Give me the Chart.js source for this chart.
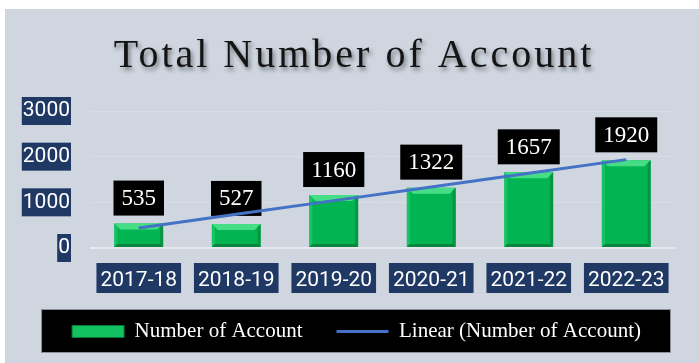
<!DOCTYPE html>
<html>
<head>
<meta charset="utf-8">
<script src="https://cdn.jsdelivr.net/npm/chart.js@4.4.1/dist/chart.umd.min.js"></script>
<style>
html, body { margin: 0; padding: 0; background: #fff; }
canvas { display: block; }
</style>
</head>
<body>
<canvas id="accounts" width="699" height="363"></canvas>
<script>
var years = ['2017-18', '2018-19', '2019-20', '2020-21', '2021-22', '2022-23'];
var accounts = [535, 527, 1160, 1322, 1657, 1920];
var yTicks = [0, 1000, 2000, 3000];
var seriesName = 'Number of Account';
var trendName = 'Linear (Number of Account)';
var chartTitle = 'Total Number of Account';

var navy = '#203864';
var tickFont = { family: 'Roboto', size: 21 };
var serif = '"Liberation Serif", "Times New Roman", serif';

// least squares line through the yearly counts
function linearTrend(values) {
    var n = values.length, sx = 0, sy = 0, sxy = 0, sxx = 0;
    for (var i = 0; i < n; i++) {
        sx += i; sy += values[i]; sxy += i * values[i]; sxx += i * i;
    }
    var slope = (n * sxy - sx * sy) / (n * sxx - sx * sx);
    var icpt = (sy - slope * sx) / n;
    return values.map(function (v, i) { return icpt + slope * i; });
}

// panel, heading, label boxes and legend strip, all under the chart
var backdrop = {
    id: 'backdrop',
    beforeDraw: function (chart) {
        var ctx = chart.ctx;
        ctx.save();
        ctx.fillStyle = '#fff';
        ctx.fillRect(0, 0, chart.width, chart.height);
        ctx.fillStyle = '#cfd6e0';
        ctx.fillRect(5, 9, chart.width - 5, chart.height - 9);

        ctx.save();
        ctx.font = '40px ' + serif;
        ctx.letterSpacing = '3px';
        ctx.textAlign = 'center';
        ctx.textBaseline = 'alphabetic';
        ctx.shadowColor = 'rgba(0,0,0,0.45)';
        ctx.shadowBlur = 4;
        ctx.shadowOffsetX = 2;
        ctx.shadowOffsetY = 3;
        ctx.fillStyle = '#141414';
        ctx.fillText(chartTitle, 354, 67);
        ctx.restore();

        var ys = chart.scales.y, xs = chart.scales.x;
        var f = Chart.helpers.toFont(tickFont);
        ctx.font = f.string;
        ctx.fillStyle = navy;
        ys.ticks.forEach(function (t, i) {
            var w = ctx.measureText(t.label).width;
            var py = ys.getPixelForTick(i);
            var r = ys.right - ys.options.ticks.padding;
            ctx.fillRect(r - w - 1, py - 14, w + 2, 28);
        });
        xs.ticks.forEach(function (t, i) {
            var w = ctx.measureText(t.label).width;
            var px = xs.getPixelForTick(i);
            ctx.fillRect(px - w / 2 - 4, xs.top + 15, w + 8, 30);
        });

        var hb = chart.legend.legendHitBoxes;
        if (hb && hb.length) {
            var l = Math.min.apply(null, hb.map(function (b) { return b.left; }));
            var r = Math.max.apply(null, hb.map(function (b) { return b.left + b.width; }));
            ctx.fillStyle = '#000';
            ctx.fillRect(l - 31, hb[0].top - 12, r - l + 61, 44);
            ctx.strokeStyle = '#8c9199';
            ctx.lineWidth = 1;
            ctx.strokeRect(l - 30.5, hb[0].top - 11.5, r - l + 60, 43);
        }
        ctx.restore();
    }
};

// bevel on each bar plus the black value tags
var barDecor = {
    id: 'barDecor',
    afterDatasetDraw: function (chart, args) {
        if (args.index !== 0) return;
        var ctx = chart.ctx;
        ctx.save();
        args.meta.data.forEach(function (bar, i) {
            var p = bar.getProps(['x', 'y', 'base', 'width'], true);
            var l = p.x - p.width / 2, r = p.x + p.width / 2, t = p.y, b = p.base;
            var e = 6, s = 3;
            ctx.fillStyle = '#45de86';
            ctx.beginPath();
            ctx.moveTo(l, t); ctx.lineTo(r, t); ctx.lineTo(r - e, t + e); ctx.lineTo(l + e, t + e);
            ctx.closePath(); ctx.fill();
            ctx.fillStyle = '#17c463';
            ctx.beginPath();
            ctx.moveTo(l, t); ctx.lineTo(l + s, t + s); ctx.lineTo(l + s, b - s); ctx.lineTo(l, b);
            ctx.closePath(); ctx.fill();
            ctx.fillStyle = '#079443';
            ctx.beginPath();
            ctx.moveTo(r, t); ctx.lineTo(r - s, t + s); ctx.lineTo(r - s, b - s); ctx.lineTo(r, b);
            ctx.closePath(); ctx.fill();
            ctx.fillStyle = '#08843c';
            ctx.beginPath();
            ctx.moveTo(l, b); ctx.lineTo(l + s, b - s); ctx.lineTo(r - s, b - s); ctx.lineTo(r, b);
            ctx.closePath(); ctx.fill();

            var txt = String(accounts[i]);
            ctx.font = '23px ' + serif;
            var w = ctx.measureText(txt).width + 16;
            var h = 35;
            var by = t - 8 - h;
            ctx.fillStyle = '#000';
            ctx.fillRect(p.x - w / 2, by, w, h);
            ctx.fillStyle = '#fff';
            ctx.textAlign = 'center';
            ctx.textBaseline = 'middle';
            ctx.fillText(txt, p.x, by + h / 2 + 1);
        });
        ctx.restore();
    }
};

new Chart(document.getElementById('accounts'), {
    type: 'bar',
    data: {
        labels: years,
        datasets: [{
            type: 'bar',
            label: seriesName,
            data: accounts,
            backgroundColor: '#03b452',
            barPercentage: 0.5,
            categoryPercentage: 1,
            order: 1
        }, {
            type: 'line',
            label: trendName,
            data: linearTrend(accounts),
            borderColor: '#4472c4',
            borderWidth: 3,
            pointRadius: 0,
            tension: 0,
            order: 0
        }]
    },
    options: {
        responsive: false,
        animation: false,
        layout: { padding: { top: 111, right: 24, bottom: 11, left: 16 } },
        scales: {
            x: {
                grid: { display: false },
                border: { display: false },
                ticks: { color: '#fff', font: tickFont, padding: 12, maxRotation: 0 },
                afterFit: function (s) { s.height = 39; }
            },
            y: {
                min: 0,
                max: 3000,
                afterBuildTicks: function (s) {
                    s.ticks = yTicks.map(function (v) { return { value: v }; });
                },
                grid: {
                    drawTicks: false,
                    color: function (c) { return c.tick && c.tick.value === 0 ? '#e6e9ee' : '#d8dde5'; },
                    lineWidth: function (c) { return c.tick && c.tick.value === 0 ? 2 : 1; }
                },
                border: { display: false },
                ticks: {
                    color: '#fff',
                    font: tickFont,
                    padding: 20,
                    callback: function (v) { return String(v); }
                },
                afterFit: function (s) { s.width = 74; }
            }
        },
        plugins: {
            tooltip: { enabled: false },
            legend: {
                position: 'bottom',
                align: 'end',
                labels: {
                    color: '#fff',
                    font: { family: serif, size: 21 },
                    usePointStyle: true,
                    pointStyleWidth: 52,
                    boxHeight: 12,
                    padding: 34,
                    generateLabels: function (chart) {
                        var items = Chart.defaults.plugins.legend.labels.generateLabels(chart);
                        items.forEach(function (it) {
                            it.fontColor = '#fff';
                            if (it.datasetIndex === 0) {
                                it.pointStyle = 'rect';
                                it.fillStyle = '#12c15f';
                                it.strokeStyle = '#087a38';
                                it.lineWidth = 1;
                            } else {
                                it.pointStyle = 'line';
                                it.strokeStyle = '#4472c4';
                                it.lineWidth = 3;
                            }
                        });
                        return items.sort(function (a, b) { return a.datasetIndex - b.datasetIndex; });
                    }
                }
            }
        }
    },
    plugins: [backdrop, barDecor]
});
</script>
</body>
</html>
